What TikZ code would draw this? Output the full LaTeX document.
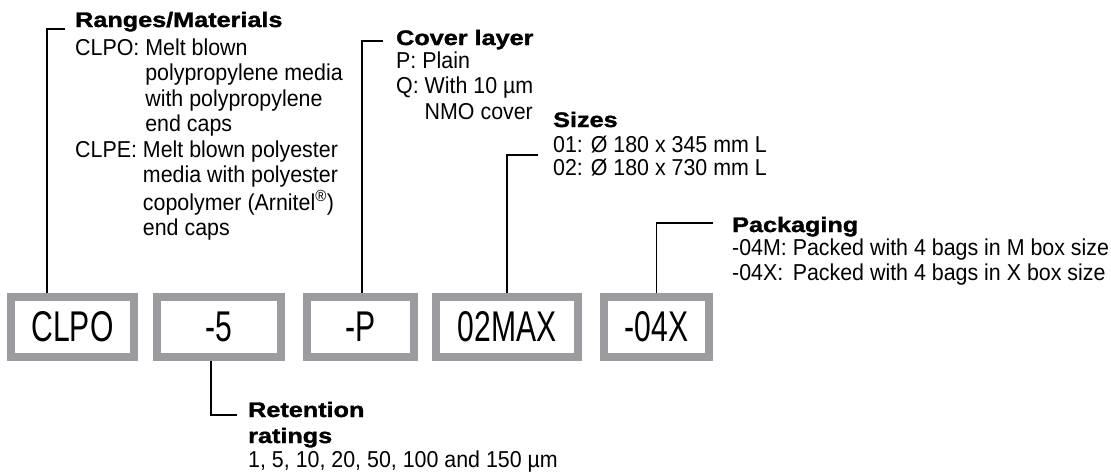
\documentclass[tikz,border=0pt]{standalone}
\usepackage{fontspec}
\setmainfont{Liberation Sans}[FakeStretch=0.93]
\newfontfamily\headfont{Liberation Sans Bold}[FakeStretch=1.2,FakeBold=1.6]
\newfontfamily\boxfont{Liberation Sans}[FakeStretch=0.7]
\usetikzlibrary{positioning}
\definecolor{boxgray}{RGB}{155,156,160}
\newcommand\bodytext{\fontsize{23}{25.5}\selectfont}
\newcommand\headtext{\headfont\fontsize{21}{25}\selectfont}
\newcommand\boxtext{\boxfont\fontsize{43}{48}\selectfont}
% first row of a legend sits on the node's base line
\newcommand\keytab[1]{\begin{tabular}[t]{@{}l@{}}#1\end{tabular}}

\begin{document}
\begin{tikzpicture}[
  x=1pt, y=-1pt,
  codebox/.style={draw=boxgray, line width=8pt, outer sep=4pt, inner sep=0pt,
                  minimum height=60pt, font=\boxtext},
  lead/.style={draw=black, line width=1.4pt},
  blurb/.style={anchor=base west, inner sep=0pt, font=\bodytext},
]
\useasboundingbox (0,0) rectangle (1111,472);

% ---- order code boxes ----
\node[codebox, minimum width=123pt] (clpo) at (72.5,327) {CLPO};
\node[codebox, minimum width=124pt, right=15pt of clpo] (rating) {-5};
\node[codebox, minimum width=107pt, right=18pt of rating] (cover) {-P};
\node[codebox, minimum width=142pt, right=14pt of cover] (size) {02MAX};
\node[codebox, minimum width=105pt, right=18pt of size] (pack) {-04X};

% ---- where the leads end ----
\coordinate (rangesK) at (65,29);
\coordinate (coverK) at (383,41);
\coordinate (sizesK) at (538,155);
\coordinate (packK) at (713,223);
\coordinate (retK) at (237,415);

% ---- legends ----
\node[blurb] (ranges) at (75,27)
  {\keytab{{\headtext Ranges/Materials}\\[2.5pt]
   CLPO: Melt blown\\
   \phantom{CLPO: }polypropylene media\\
   \phantom{CLPO: }with polypropylene\\
   \phantom{CLPO: }end caps\\
   CLPE: Melt blown polyester\\
   \phantom{CLPE: }media with polyester\\
   \phantom{CLPE: }copolymer (Arnitel\textsuperscript{®})\\
   \phantom{CLPE: }end caps}};
\node[blurb] (coverL) at (396,45)
  {\keytab{{\headtext Cover layer}\\[-2.5pt]
   P: Plain\\
   Q: With 10 µm\\
   \phantom{Q: }NMO cover}};
\node[blurb] (sizesL) at (553,127)
  {\keytab{{\headtext Sizes}\\[-0.5pt]
   01: Ø 180 x 345 mm L\\[-2.5pt]
   02: Ø 180 x 730 mm L}};
\node[blurb] (packL) at (732,232)
  {\keytab{{\headtext Packaging}\\[-2.5pt]
   -04M: Packed with 4 bags in M box size\\
   \rlap{-04X:}\phantom{-04M:} Packed with 4 bags in X box size}};
\node[blurb] (retL) at (248,417)
  {\keytab{{\headtext Retention}\\[0.5pt]
   {\headtext ratings}\\[-1.5pt]
   1, 5, 10, 20, 50, 100 and 150 µm}};

% ---- leads from the boxes ----
\draw[lead] ([xshift=40pt]clpo.north west) |- (rangesK);
\draw[lead] ([xshift=1.5pt]cover.north) |- (coverK);
\draw[lead] (size.north) |- (sizesK);
\draw[lead] (pack.north) |- (packK);
\draw[lead] ([xshift=-8pt]rating.south) |- (retK);

\end{tikzpicture}
\end{document}
